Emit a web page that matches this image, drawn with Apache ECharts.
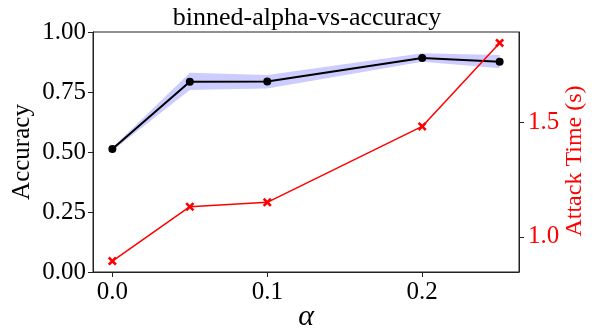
<!DOCTYPE html>
<html>
<head>
<meta charset="utf-8">
<script src="https://cdn.jsdelivr.net/npm/echarts@6/dist/echarts.min.js"></script>
<style>
  html, body { margin: 0; padding: 0; background: #fff; }
  #chart { width: 595px; height: 330px; }
</style>
</head>
<body>
<div id="chart"></div>
<script>
// alpha values (x) and measured results
const alphas = [0.0, 0.05, 0.1, 0.2, 0.25];
const accuracy = [0.512, 0.793, 0.794, 0.892, 0.876];
const accuracyLow = [0.505, 0.758, 0.765, 0.876, 0.849];
const accuracyHigh = [0.518, 0.830, 0.821, 0.911, 0.904];
const attackTime = [0.894, 1.131, 1.150, 1.481, 1.845];

const xTicks = [0.0, 0.1, 0.2];
const timeTicks = [1.0, 1.5];

const FONT = 'Liberation Serif';
const pairs = (ys) => alphas.map((x, i) => [x, ys[i]]);

// filled "X" marker
const xMarker = 'path://M-3,-5 L0,-2 L3,-5 L5,-3 L2,0 L5,3 L3,5 L0,2 L-3,5 L-5,3 L-2,0 L-5,-3 Z';

// shaded band between the low and high accuracy curves
function renderBand(params, api) {
  if (params.dataIndex !== 0) return null;
  const upper = alphas.map((x, i) => api.coord([x, accuracyHigh[i]]));
  const lower = alphas.map((x, i) => api.coord([x, accuracyLow[i]])).reverse();
  return {
    type: 'polygon',
    shape: { points: upper.concat(lower) },
    style: { fill: 'rgba(0,0,255,0.2)', stroke: 'none' }
  };
}

const chart = echarts.init(document.getElementById('chart'), null, { renderer: 'canvas' });
chart.setOption({
  animation: false,
  backgroundColor: '#ffffff',
  title: {
    text: 'binned-alpha-vs-accuracy',
    left: 302, top: 0, textAlign: 'center',
    textStyle: { fontFamily: FONT, fontSize: 26, fontWeight: 'normal', color: '#000' }
  },
  grid: {
    left: 93, right: 76, top: 32, bottom: 58,
    outerBoundsMode: 'none', containLabel: false,
    show: true, borderColor: '#222', borderWidth: 1
  },
  xAxis: {
    type: 'value', min: -0.0125, max: 0.2625,
    name: 'α', nameLocation: 'middle', nameGap: 30, nameMoveOverlap: false,
    nameTextStyle: { fontFamily: FONT, fontStyle: 'italic', fontSize: 30, color: '#000' },
    axisLine: { show: true, onZero: false, lineStyle: { color: '#222', width: 1 } },
    axisTick: { show: true, inside: false, length: 5, customValues: xTicks, lineStyle: { color: '#222' } },
    axisLabel: {
      customValues: xTicks, formatter: v => v.toFixed(1), margin: 8,
      fontFamily: FONT, fontSize: 25, color: '#000'
    },
    splitLine: { show: false }
  },
  yAxis: [
    {
      type: 'value', min: 0, max: 1, interval: 0.25, position: 'left',
      name: 'Accuracy', nameLocation: 'middle', nameGap: 58, nameRotate: 90, nameMoveOverlap: false,
      nameTextStyle: { fontFamily: FONT, fontSize: 25, color: '#000' },
      axisLine: { show: true, onZero: false, lineStyle: { color: '#222', width: 1 } },
      axisTick: { show: true, length: 5, lineStyle: { color: '#222' } },
      axisLabel: { formatter: v => v.toFixed(2), margin: 7, fontFamily: FONT, fontSize: 25, color: '#000' },
      splitLine: { show: false }
    },
    {
      type: 'value', min: 0.8465, max: 1.8925, position: 'right',
      name: 'Attack Time (s)', nameLocation: 'middle', nameGap: 44, nameRotate: 90, nameMoveOverlap: false,
      nameTextStyle: { fontFamily: FONT, fontSize: 24, color: '#ff0000', padding: [0, 18, 0, 0] },
      axisLine: { show: true, onZero: false, lineStyle: { color: '#222', width: 1 } },
      axisTick: { show: true, length: 5, customValues: timeTicks, lineStyle: { color: '#222' } },
      axisLabel: {
        customValues: timeTicks, formatter: v => v.toFixed(1), margin: 9,
        fontFamily: FONT, fontSize: 25, color: '#ff0000'
      },
      splitLine: { show: false }
    }
  ],
  series: [
    {
      type: 'custom', yAxisIndex: 0, data: pairs(accuracy),
      renderItem: renderBand, silent: true, z: 1
    },
    {
      type: 'line', yAxisIndex: 0, data: pairs(accuracy), z: 3,
      lineStyle: { color: '#000', width: 2 },
      itemStyle: { color: '#000' }, symbol: 'circle', symbolSize: 8
    },
    {
      type: 'line', yAxisIndex: 1, data: pairs(attackTime), z: 4,
      lineStyle: { color: '#ff0000', width: 1.5 },
      itemStyle: { color: '#ff0000' }, symbol: xMarker, symbolSize: 9
    }
  ]
});
</script>
</body>
</html>
